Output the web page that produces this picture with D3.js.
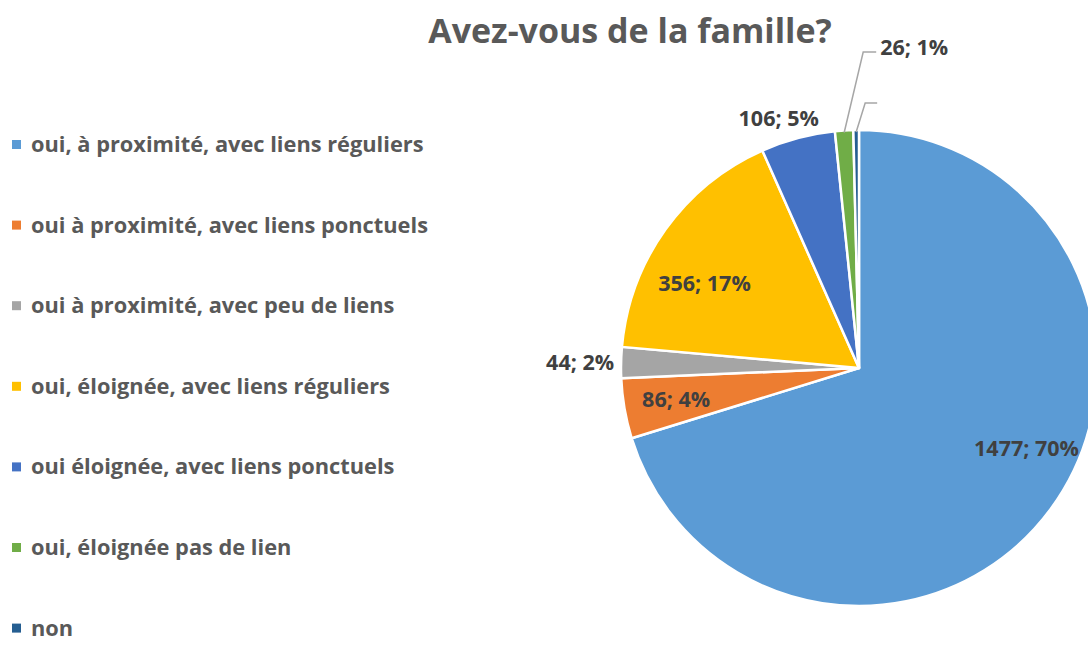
<!DOCTYPE html>
<html><head><meta charset="utf-8">
<script src="https://cdn.jsdelivr.net/npm/d3@7"></script>
<style>body{margin:0;background:#fff}svg{display:block}</style>
</head><body>
<script>
const categories = ["oui, à proximité, avec liens réguliers","oui à proximité, avec liens ponctuels","oui à proximité, avec peu de liens","oui, éloignée, avec liens réguliers","oui éloignée, avec liens ponctuels","oui, éloignée pas de lien","non"];
const values = [1477, 86, 44, 356, 106, 26, 8];
const labels = ["1477; 70%","86; 4%","44; 2%","356; 17%","106; 5%","26; 1%",""];
const colors = ["#5B9BD5","#ED7D31","#A5A5A5","#FFC000","#4472C4","#70AD47","#255E91"];
const title = "Avez-vous de la famille?";

const W=1088,H=645, cx=859, cy=368, R=238;
const font = "'Open Sans', 'DejaVu Sans', sans-serif";
const txt = "#595959";
const svg = d3.select("body").append("svg").attr("width",W).attr("height",H);

svg.append("text").attr("x",630).attr("y",43).attr("text-anchor","middle")
  .attr("font-family",font).attr("font-weight",700).attr("font-size",34).attr("fill",txt).text(title);

// legend
const leg = svg.append("g");
categories.forEach((c,i)=>{
  const y = 145 + i*80.6;
  leg.append("rect").attr("x",12).attr("y",y-5).attr("width",9).attr("height",9).attr("fill",colors[i]);
  leg.append("text").attr("x",31).attr("y",y+7).attr("font-family",font).attr("font-weight",700)
    .attr("font-size",21.8).attr("fill",txt).text(c);
});

const pie = d3.pie().sort(null).value(d=>d)(values);
const arc = d3.arc().innerRadius(0).outerRadius(R);
const g = svg.append("g").attr("transform",`translate(${cx},${cy})`);
g.selectAll("path").data(pie).join("path").attr("d",arc)
  .attr("fill",(d,i)=>colors[i]).attr("stroke","#fff").attr("stroke-width",2.5).attr("stroke-linejoin","round");

const pt = (a,r)=>[Math.sin(a)*r, -Math.cos(a)*r];
const mid = d=>(d.startAngle+d.endAngle)/2;
const lab = g.append("g").attr("font-family",font).attr("font-weight",700).attr("font-size",21.5).attr("fill","#404040");
// inside labels
[[0,0.78,-0.19],[1,0.78,0],[3,0.74,-0.12]].forEach(([i,f,da])=>{
  const p = pt(mid(pie[i])+da, R*f);
  lab.append("text").attr("x",p[0]).attr("y",p[1]).attr("dy","0.35em").attr("text-anchor","middle").text(labels[i]);
});
// outside labels
{ const p = pt(mid(pie[2]), R+7);
  lab.append("text").attr("x",p[0]).attr("y",p[1]).attr("dy","0.35em").attr("text-anchor","end").text(labels[2]); }
{ const p = pt(mid(pie[4]), R+20);
  lab.append("text").attr("x",p[0]-14).attr("y",p[1]).attr("dy","0.35em").attr("text-anchor","middle").text(labels[4]); }
// leader-line labels
[[5, 316, 13],[6, 265, 12]].forEach(([i,yTop,hl])=>{
  const a = mid(pie[i]);
  const p0 = pt(a, R-2);
  const bx = p0[0]+ (i===5?19:9), by = -yTop;
  g.append("polyline").attr("points",`${p0[0]},${p0[1]} ${bx},${by} ${bx+hl},${by}`)
    .attr("fill","none").attr("stroke","#A6A6A6").attr("stroke-width",1.5);
  if(labels[i]) lab.append("text").attr("x",bx+hl+4).attr("y",by).attr("dy","0.12em").text(labels[i]);
});
</script>
</body></html>
